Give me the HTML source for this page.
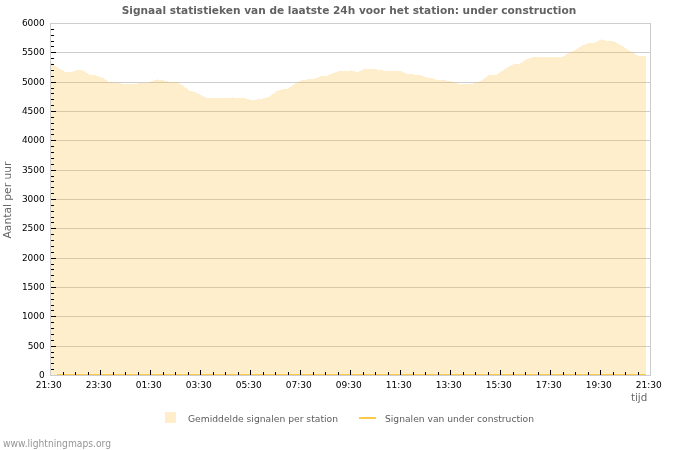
<!DOCTYPE html>
<html lang="nl"><head><meta charset="utf-8"><title>Signaal statistieken</title>
<style>
html,body{margin:0;padding:0;background:#fff;}
body{width:700px;height:450px;overflow:hidden;}
svg{display:block;}
text{font-family:'DejaVu Sans','Liberation Sans',sans-serif;}
.t{font-size:9.33px;fill:#000;}
.a{font-size:11.3px;fill:#666;}
.l{font-size:9.4px;fill:#5c5c5c;}
</style></head><body>
<svg width="700" height="450" viewBox="0 0 700 450">
<rect width="700" height="450" fill="#fff"/>
<g shape-rendering="crispEdges" fill="#cdcdcd">
<rect x="50" y="375" width="601" height="1"/>
<rect x="50" y="346" width="601" height="1"/>
<rect x="50" y="316" width="601" height="1"/>
<rect x="50" y="287" width="601" height="1"/>
<rect x="50" y="258" width="601" height="1"/>
<rect x="50" y="228" width="601" height="1"/>
<rect x="50" y="199" width="601" height="1"/>
<rect x="50" y="170" width="601" height="1"/>
<rect x="50" y="140" width="601" height="1"/>
<rect x="50" y="111" width="601" height="1"/>
<rect x="50" y="82" width="601" height="1"/>
<rect x="50" y="52" width="601" height="1"/>
<rect x="50" y="23" width="601" height="1"/>
<rect x="50" y="23" width="1" height="353"/>
<rect x="650" y="23" width="1" height="353"/>
</g>
<path d="M51,375V62H52V63H53V64H54V65H55V66H56V67H57V68H59V69H61V70H63V71H64V72H73V71H76V70H83V71H85V72H86V73H88V74H89V75H96V76H99V77H102V78H104V79H105V80H107V81H108V82H114V83H121V84H138V83H148V82H151V81H154V80H157V79H158V80H164V81H168V82H177V83H179V84H181V85H183V86H184V87H185V88H187V89H188V90H189V91H193V92H196V93H198V94H200V95H202V96H204V97H206V98H213V97H214V98H232V97H233V98H246V99H249V100H257V99H263V98H267V97H270V96H271V95H272V94H274V93H275V92H276V91H279V90H282V89H288V88H289V87H291V86H292V85H294V84H295V83H297V82H299V81H301V80H307V79H315V78H318V77H320V76H328V75H330V74H332V73H335V72H338V71H351V70H352V71H355V72H359V71H361V70H363V69H377V70H383V71H402V72H404V73H406V74H414V75H421V76H424V77H427V78H433V79H436V80H446V81H452V82H455V83H458V84H473V83H476V82H479V81H482V80H483V79H484V78H486V77H487V76H488V75H497V74H498V73H500V72H501V71H503V70H504V69H506V68H507V67H509V66H511V65H513V64H520V63H522V62H523V61H525V60H526V59H529V58H532V57H563V56H565V55H566V54H568V53H570V52H572V51H574V50H576V49H578V48H579V47H581V46H582V45H585V44H588V43H595V42H597V41H599V40H601V39H602V40H605V41H614V42H616V43H618V44H619V45H621V46H623V47H624V48H626V49H627V50H629V51H631V52H633V53H634V54H636V55H638V56H646V375Z" fill="rgba(255,187,51,0.25)" shape-rendering="crispEdges"/>
<rect x="57" y="374" width="589" height="1" fill="#ffcb45" shape-rendering="crispEdges"/>
<g shape-rendering="crispEdges" fill="#000">
<rect x="51" y="369" width="3" height="1"/>
<rect x="51" y="363" width="3" height="1"/>
<rect x="51" y="357" width="3" height="1"/>
<rect x="51" y="352" width="3" height="1"/>
<rect x="51" y="346" width="5" height="1"/>
<rect x="51" y="340" width="3" height="1"/>
<rect x="51" y="334" width="3" height="1"/>
<rect x="51" y="328" width="3" height="1"/>
<rect x="51" y="322" width="3" height="1"/>
<rect x="51" y="316" width="5" height="1"/>
<rect x="51" y="310" width="3" height="1"/>
<rect x="51" y="305" width="3" height="1"/>
<rect x="51" y="299" width="3" height="1"/>
<rect x="51" y="293" width="3" height="1"/>
<rect x="51" y="287" width="5" height="1"/>
<rect x="51" y="281" width="3" height="1"/>
<rect x="51" y="275" width="3" height="1"/>
<rect x="51" y="269" width="3" height="1"/>
<rect x="51" y="264" width="3" height="1"/>
<rect x="51" y="258" width="5" height="1"/>
<rect x="51" y="252" width="3" height="1"/>
<rect x="51" y="246" width="3" height="1"/>
<rect x="51" y="240" width="3" height="1"/>
<rect x="51" y="234" width="3" height="1"/>
<rect x="51" y="228" width="5" height="1"/>
<rect x="51" y="222" width="3" height="1"/>
<rect x="51" y="217" width="3" height="1"/>
<rect x="51" y="211" width="3" height="1"/>
<rect x="51" y="205" width="3" height="1"/>
<rect x="51" y="199" width="5" height="1"/>
<rect x="51" y="193" width="3" height="1"/>
<rect x="51" y="187" width="3" height="1"/>
<rect x="51" y="181" width="3" height="1"/>
<rect x="51" y="176" width="3" height="1"/>
<rect x="51" y="170" width="5" height="1"/>
<rect x="51" y="164" width="3" height="1"/>
<rect x="51" y="158" width="3" height="1"/>
<rect x="51" y="152" width="3" height="1"/>
<rect x="51" y="146" width="3" height="1"/>
<rect x="51" y="140" width="5" height="1"/>
<rect x="51" y="134" width="3" height="1"/>
<rect x="51" y="129" width="3" height="1"/>
<rect x="51" y="123" width="3" height="1"/>
<rect x="51" y="117" width="3" height="1"/>
<rect x="51" y="111" width="5" height="1"/>
<rect x="51" y="105" width="3" height="1"/>
<rect x="51" y="99" width="3" height="1"/>
<rect x="51" y="93" width="3" height="1"/>
<rect x="51" y="88" width="3" height="1"/>
<rect x="51" y="82" width="5" height="1"/>
<rect x="51" y="76" width="3" height="1"/>
<rect x="51" y="70" width="3" height="1"/>
<rect x="51" y="64" width="3" height="1"/>
<rect x="51" y="58" width="3" height="1"/>
<rect x="51" y="52" width="5" height="1"/>
<rect x="51" y="46" width="3" height="1"/>
<rect x="51" y="41" width="3" height="1"/>
<rect x="51" y="35" width="3" height="1"/>
<rect x="51" y="29" width="3" height="1"/>
<rect x="63" y="372" width="1" height="3"/>
<rect x="75" y="372" width="1" height="3"/>
<rect x="88" y="372" width="1" height="3"/>
<rect x="100" y="370" width="1" height="5"/>
<rect x="113" y="372" width="1" height="3"/>
<rect x="125" y="372" width="1" height="3"/>
<rect x="138" y="372" width="1" height="3"/>
<rect x="150" y="370" width="1" height="5"/>
<rect x="163" y="372" width="1" height="3"/>
<rect x="175" y="372" width="1" height="3"/>
<rect x="188" y="372" width="1" height="3"/>
<rect x="200" y="370" width="1" height="5"/>
<rect x="213" y="372" width="1" height="3"/>
<rect x="225" y="372" width="1" height="3"/>
<rect x="238" y="372" width="1" height="3"/>
<rect x="250" y="370" width="1" height="5"/>
<rect x="263" y="372" width="1" height="3"/>
<rect x="275" y="372" width="1" height="3"/>
<rect x="288" y="372" width="1" height="3"/>
<rect x="300" y="370" width="1" height="5"/>
<rect x="313" y="372" width="1" height="3"/>
<rect x="325" y="372" width="1" height="3"/>
<rect x="338" y="372" width="1" height="3"/>
<rect x="350" y="370" width="1" height="5"/>
<rect x="363" y="372" width="1" height="3"/>
<rect x="375" y="372" width="1" height="3"/>
<rect x="388" y="372" width="1" height="3"/>
<rect x="400" y="370" width="1" height="5"/>
<rect x="413" y="372" width="1" height="3"/>
<rect x="425" y="372" width="1" height="3"/>
<rect x="438" y="372" width="1" height="3"/>
<rect x="450" y="370" width="1" height="5"/>
<rect x="463" y="372" width="1" height="3"/>
<rect x="475" y="372" width="1" height="3"/>
<rect x="488" y="372" width="1" height="3"/>
<rect x="500" y="370" width="1" height="5"/>
<rect x="513" y="372" width="1" height="3"/>
<rect x="525" y="372" width="1" height="3"/>
<rect x="538" y="372" width="1" height="3"/>
<rect x="550" y="370" width="1" height="5"/>
<rect x="563" y="372" width="1" height="3"/>
<rect x="575" y="372" width="1" height="3"/>
<rect x="588" y="372" width="1" height="3"/>
<rect x="600" y="370" width="1" height="5"/>
<rect x="613" y="372" width="1" height="3"/>
<rect x="625" y="372" width="1" height="3"/>
<rect x="638" y="372" width="1" height="3"/>
</g>
<text class="t" x="44.8" y="378.4" text-anchor="end" textLength="5.72" lengthAdjust="spacingAndGlyphs">0</text>
<text class="t" x="44.8" y="349.4" text-anchor="end" textLength="17.16" lengthAdjust="spacingAndGlyphs">500</text>
<text class="t" x="44.8" y="319.4" text-anchor="end" textLength="22.88" lengthAdjust="spacingAndGlyphs">1000</text>
<text class="t" x="44.8" y="290.4" text-anchor="end" textLength="22.88" lengthAdjust="spacingAndGlyphs">1500</text>
<text class="t" x="44.8" y="261.4" text-anchor="end" textLength="22.88" lengthAdjust="spacingAndGlyphs">2000</text>
<text class="t" x="44.8" y="231.4" text-anchor="end" textLength="22.88" lengthAdjust="spacingAndGlyphs">2500</text>
<text class="t" x="44.8" y="202.4" text-anchor="end" textLength="22.88" lengthAdjust="spacingAndGlyphs">3000</text>
<text class="t" x="44.8" y="173.4" text-anchor="end" textLength="22.88" lengthAdjust="spacingAndGlyphs">3500</text>
<text class="t" x="44.8" y="143.4" text-anchor="end" textLength="22.88" lengthAdjust="spacingAndGlyphs">4000</text>
<text class="t" x="44.8" y="114.4" text-anchor="end" textLength="22.88" lengthAdjust="spacingAndGlyphs">4500</text>
<text class="t" x="44.8" y="85.4" text-anchor="end" textLength="22.88" lengthAdjust="spacingAndGlyphs">5000</text>
<text class="t" x="44.8" y="55.4" text-anchor="end" textLength="22.88" lengthAdjust="spacingAndGlyphs">5500</text>
<text class="t" x="44.8" y="26.4" text-anchor="end" textLength="22.88" lengthAdjust="spacingAndGlyphs">6000</text>
<text class="t" x="48.7" y="388" text-anchor="middle" textLength="26.1" lengthAdjust="spacingAndGlyphs">21:30</text>
<text class="t" x="98.7" y="388" text-anchor="middle" textLength="26.1" lengthAdjust="spacingAndGlyphs">23:30</text>
<text class="t" x="148.7" y="388" text-anchor="middle" textLength="26.1" lengthAdjust="spacingAndGlyphs">01:30</text>
<text class="t" x="198.7" y="388" text-anchor="middle" textLength="26.1" lengthAdjust="spacingAndGlyphs">03:30</text>
<text class="t" x="248.7" y="388" text-anchor="middle" textLength="26.1" lengthAdjust="spacingAndGlyphs">05:30</text>
<text class="t" x="298.7" y="388" text-anchor="middle" textLength="26.1" lengthAdjust="spacingAndGlyphs">07:30</text>
<text class="t" x="348.7" y="388" text-anchor="middle" textLength="26.1" lengthAdjust="spacingAndGlyphs">09:30</text>
<text class="t" x="398.7" y="388" text-anchor="middle" textLength="26.1" lengthAdjust="spacingAndGlyphs">11:30</text>
<text class="t" x="448.7" y="388" text-anchor="middle" textLength="26.1" lengthAdjust="spacingAndGlyphs">13:30</text>
<text class="t" x="498.7" y="388" text-anchor="middle" textLength="26.1" lengthAdjust="spacingAndGlyphs">15:30</text>
<text class="t" x="548.7" y="388" text-anchor="middle" textLength="26.1" lengthAdjust="spacingAndGlyphs">17:30</text>
<text class="t" x="598.7" y="388" text-anchor="middle" textLength="26.1" lengthAdjust="spacingAndGlyphs">19:30</text>
<text class="t" x="648.7" y="388" text-anchor="middle" textLength="26.1" lengthAdjust="spacingAndGlyphs">21:30</text>
<text class="a" x="647.3" y="401" text-anchor="end" textLength="16.4" lengthAdjust="spacingAndGlyphs">tijd</text>
<text class="a" transform="translate(11,200) rotate(-90)" text-anchor="middle" textLength="77" lengthAdjust="spacingAndGlyphs">Aantal per uur</text>
<text x="349" y="14" text-anchor="middle" style="font-size:11.2px;font-weight:bold;fill:#626262" textLength="454.5" lengthAdjust="spacingAndGlyphs">Signaal statistieken van de laatste 24h voor het station: under construction</text>
<rect x="165" y="412" width="11" height="11" fill="#ffedcc" shape-rendering="crispEdges"/>
<text class="l" x="188" y="422" textLength="150" lengthAdjust="spacingAndGlyphs">Gemiddelde signalen per station</text>
<rect x="359" y="417" width="17" height="2" fill="#ffcb45" shape-rendering="crispEdges"/>
<text class="l" x="385" y="422" textLength="149" lengthAdjust="spacingAndGlyphs">Signalen van under construction</text>
<text x="3" y="447" style="font-size:10px;fill:#969696" textLength="108" lengthAdjust="spacingAndGlyphs">www.lightningmaps.org</text>
</svg></body></html>
